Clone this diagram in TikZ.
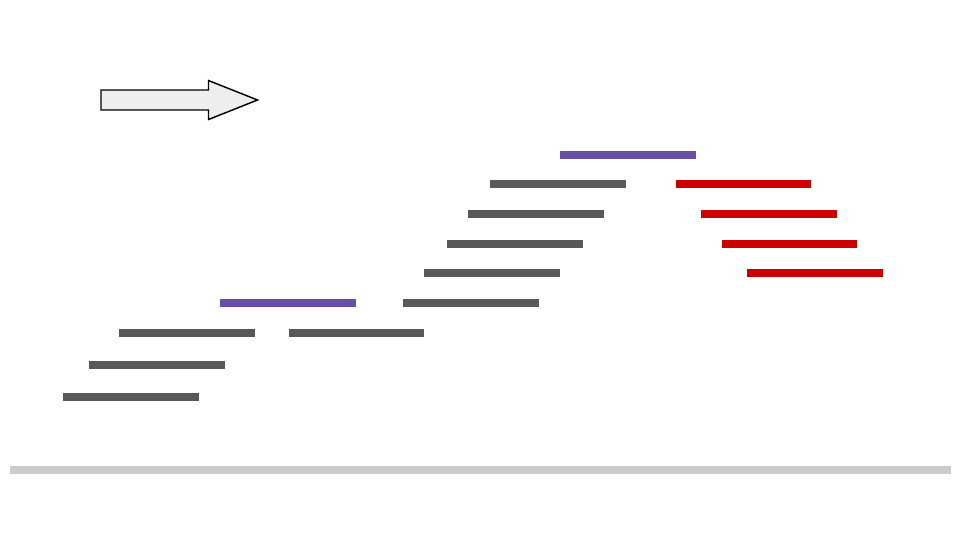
\documentclass[tikz,border=0pt]{standalone}
\definecolor{bargray}{HTML}{595959}
\definecolor{barpurple}{HTML}{674EA7}
\definecolor{barred}{HTML}{CC0000}
\definecolor{basegray}{HTML}{CCCCCC}
\definecolor{arrowfill}{HTML}{EEEEEE}
\begin{document}
\begin{tikzpicture}[x=0.75pt,y=-0.75pt,
  bar/.style={line width=6pt},
  graybar/.style={bar,draw=bargray},
  purplebar/.style={bar,draw=barpurple},
  redbar/.style={bar,draw=barred}]
\useasboundingbox (0,0) rectangle (960,540);
% baseline
\draw[line width=6pt,basegray] (9.5,470.3) -- (951.3,470.3);
% arrow
\draw[line width=1.1pt,fill=arrowfill,line join=miter]
  (101,90) -- (208.5,90) -- (208.5,80.5) -- (257.5,100) -- (208.5,119.5) -- (208.5,110) -- (101,110) -- cycle;
% gray bars
\draw[graybar] (63.3,397.3) -- (199.3,397.3);
\draw[graybar] (89.3,365.2) -- (225.3,365.2);
\draw[graybar] (119.3,333.3) -- (255.3,333.3);
\draw[graybar] (288.5,333.3) -- (424.3,333.3);
\draw[graybar] (403.3,303.3) -- (539.3,303.3);
\draw[graybar] (424.3,273.3) -- (560.3,273.3);
\draw[graybar] (447.3,244.2) -- (583.3,244.2);
\draw[graybar] (468.3,214.3) -- (604.3,214.3);
\draw[graybar] (490.3,184.3) -- (626.3,184.3);
% purple bars
\draw[purplebar] (220.3,303.3) -- (356.3,303.3);
\draw[purplebar] (560.3,155.3) -- (696.3,155.3);
% red bars
\draw[redbar] (676.3,184.3) -- (811.3,184.3);
\draw[redbar] (701.3,214.3) -- (837.3,214.3);
\draw[redbar] (722.3,244.2) -- (857.3,244.2);
\draw[redbar] (747.3,273.3) -- (883.3,273.3);
\end{tikzpicture}
\end{document}
